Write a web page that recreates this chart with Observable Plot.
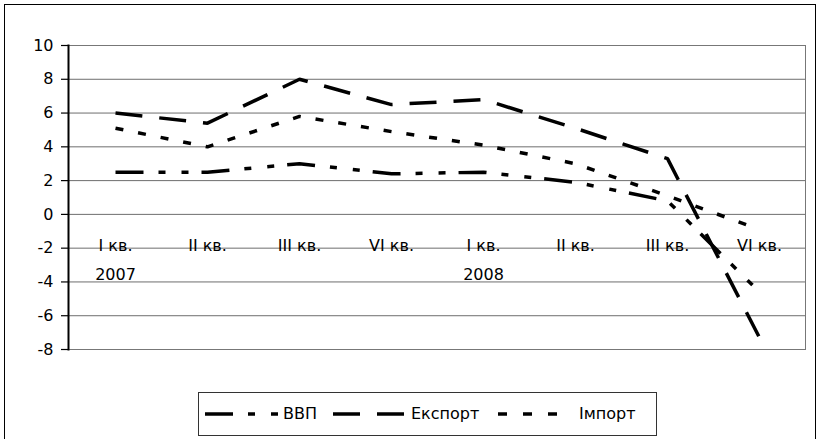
<!DOCTYPE html>
<html>
<head>
<meta charset="utf-8">
<script src="https://cdn.jsdelivr.net/npm/d3@7"></script>
<script src="https://cdn.jsdelivr.net/npm/@observablehq/plot@0.6"></script>
<style>
  body { margin: 0; background: #fff; }
  #wrap { position: relative; width: 822px; height: 439px; overflow: hidden; font-family: "DejaVu Sans", sans-serif; }
  #border { position: absolute; left: 4px; top: 4px; width: 812px; height: 440px; border: 1px solid #000; box-sizing: border-box; }
  #chart { position: absolute; left: 0; top: 0; }
  #legend { position: absolute; left: 198px; top: 392px; width: 459px; height: 44px; border: 1px solid #333; box-sizing: border-box; background: #fff; }
  #legend svg { position: absolute; top: 0; }
  #legend span { position: absolute; top: 11px; font-size: 16px; color: #000; white-space: nowrap; }
</style>
</head>
<body>
<div id="wrap">
  <div id="border"></div>
  <div id="chart"></div>
  <div id="legend"></div>
</div>
<script>
// Category labels (quarters) and years
const quarters = ["I кв.", "II кв.", "III кв.", "VI кв.", "I кв.", "II кв.", "III кв.", "VI кв."];
const years = ["2007", "", "", "", "2008", "", "", ""];

// Series values (%)
const vvp     = [2.5, 2.5, 3.0, 2.4, 2.5, 1.9, 0.8, -4.6];
const eksport = [6.0, 5.4, 8.0, 6.5, 6.8, 5.1, 3.3, -7.3];
const import_ = [5.1, 4.0, 5.8, 4.9, 4.1, 3.0, 1.1, -0.9];

const yTicks = [-8, -6, -4, -2, 0, 2, 4, 6, 8, 10];

const seriesNames = ["ВВП", "Експорт", "Імпорт"];
const seriesValues = [vvp, eksport, import_];
const dashes = {"ВВП": "28,15,7,16,7,13", "Експорт": "27,17", "Імпорт": "8,15"};

const rows = [];
seriesNames.forEach((s, k) => seriesValues[k].forEach((v, i) => rows.push({series: s, i, v})));
const cats = quarters.map((q, i) => ({i, q, yr: years[i]}));

const lineMarks = seriesNames.map(s =>
  Plot.line(rows.filter(r => r.series === s), {
    x: "i", y: "v", stroke: "#000", strokeWidth: 3.5,
    strokeDasharray: dashes[s], strokeLinecap: "butt", strokeLinejoin: "miter"
  })
);

const chart = Plot.plot({
  width: 822,
  height: 439,
  marginLeft: 68,
  marginRight: 17,
  marginTop: 45,
  marginBottom: 90,
  style: {fontFamily: "DejaVu Sans, sans-serif", fontSize: "16px", background: "transparent", color: "#000"},
  x: {type: "point", domain: d3.range(quarters.length), padding: 0.5, axis: null},
  y: {domain: [-8, 10], ticks: yTicks, axis: null, label: null},
  marks: [
    Plot.gridY(yTicks, {stroke: "#6e6e6e", strokeOpacity: 1, strokeWidth: 1}),
    Plot.ruleY([10, -8], {stroke: "#222", strokeWidth: 1.2}),
    Plot.frame({stroke: "#777", strokeWidth: 1}),
    Plot.frame({anchor: "left", stroke: "#000", strokeWidth: 2}),
    Plot.axisY(yTicks, {tickSize: 7, tickPadding: 8, fontSize: 16, stroke: "#000", strokeWidth: 1.2, label: null, tickFormat: d => String(d)}),
    Plot.text(cats, {x: "i", y: 0, text: "q", dy: 31, fontSize: 16, fill: "#000", lineAnchor: "middle"}),
    Plot.text(cats, {x: "i", y: 0, text: "yr", dy: 60, fontSize: 16, fill: "#000", lineAnchor: "middle"}),
    ...lineMarks
  ]
});
document.getElementById("chart").appendChild(chart);

// Legend
const legend = document.getElementById("legend");
const legendLayout = [
  {name: "ВВП", lineX: 6, textX: 84},
  {name: "Експорт", lineX: 134, textX: 212},
  {name: "Імпорт", lineX: 299, textX: 380}
];
legendLayout.forEach(({name, lineX, textX}) => {
  const svg = d3.create("svg").attr("width", 74).attr("height", 42).style("left", lineX + "px");
  svg.append("line").attr("x1", 0).attr("x2", 73).attr("y1", 21).attr("y2", 21)
    .attr("stroke", "#000").attr("stroke-width", 3.5).attr("stroke-dasharray", name === "Імпорт" ? "9,16" : dashes[name]);
  legend.appendChild(svg.node());
  const sp = document.createElement("span");
  sp.textContent = name;
  sp.style.left = textX + "px";
  legend.appendChild(sp);
});
</script>
</body>
</html>
